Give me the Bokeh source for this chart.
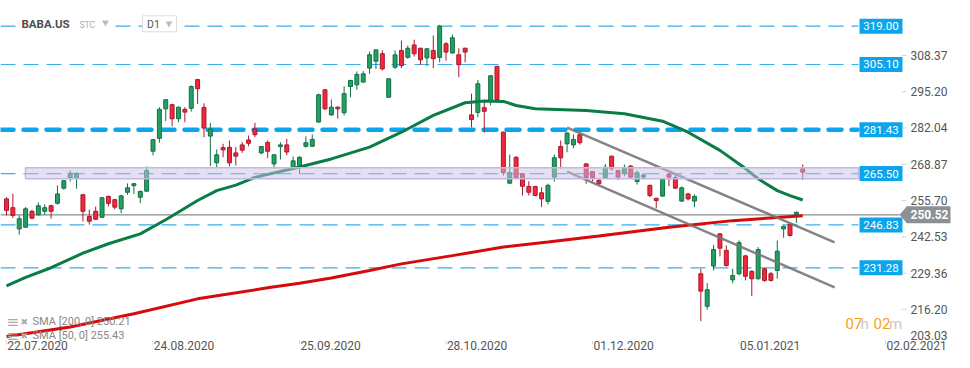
from bokeh.plotting import figure
from bokeh.models import ColumnDataSource, FixedTicker, PrintfTickFormatter, Range1d
from bokeh.core.properties import value
from bokeh.embed import file_html
from bokeh.resources import INLINE

# ---------------- data (BABA.US, D1) ----------------
opens = [256.3, 253.1, 245.4, 246.0, 251.8, 250.5, 251.8, 253.8, 254.7, 260.2,
         263.8, 263.8, 257.8, 249.9, 251.8, 249.6, 257.2, 256.0, 252.7, 258.7,
         261.1, 256.9, 259.1, 273.6, 278.3, 289.0, 290.5, 285.4, 288.8, 289.2,
         299.6, 289.5, 279.1, 269.4, 274.9, 275.0, 273.0, 275.9, 277.7, 281.7,
         273.0, 276.8, 269.0, 275.3, 275.9, 267.8, 267.8, 275.4, 275.4, 284.2,
         295.9, 286.8, 289.6, 287.6, 297.1, 297.7, 298.7, 303.8, 306.3, 309.0,
         293.2, 304.1, 310.2, 307.7, 312.2, 311.0, 307.5, 310.2, 307.7, 312.6,
         309.3, 308.6, 311.0, 286.8, 287.7, 289.4, 292.0, 304.4, 280.5, 262.0,
         271.4, 265.4, 260.8, 260.8, 258.5, 255.4, 264.2, 275.3, 276.3, 275.9,
         279.6, 269.0, 266.2, 263.0, 264.0, 271.8, 266.6, 265.6, 268.2, 262.6,
         264.2, 261.2, 256.5, 257.3, 265.2, 264.0, 255.5, 258.1, 255.5, 229.1,
         217.3, 231.9, 243.6, 237.6, 226.9, 229.1, 235.6, 230.0, 227.3, 230.9,
         229.1, 230.3, 245.4, 247.0, 250.6, 267.2]
highs = [256.9, 258.1, 250.3, 253.3, 252.3, 255.0, 254.3, 254.2, 261.2, 263.0,
         266.6, 265.8, 258.1, 252.4, 253.5, 257.0, 257.5, 256.3, 257.8, 261.9,
         262.0, 259.3, 268.1, 278.0, 289.6, 292.5, 290.8, 289.8, 289.6, 297.5,
         299.9, 291.0, 283.9, 274.2, 276.3, 277.5, 275.1, 276.9, 279.3, 283.9,
         275.5, 277.5, 272.5, 276.9, 278.1, 271.7, 271.8, 279.0, 279.7, 294.5,
         296.2, 292.4, 289.9, 297.1, 299.5, 302.6, 302.7, 309.8, 310.6, 310.2,
         300.1, 310.2, 313.8, 312.0, 314.1, 311.2, 311.0, 315.6, 319.5, 313.2,
         316.0, 311.0, 311.2, 294.5, 299.5, 292.0, 301.2, 304.6, 280.8, 272.4,
         271.8, 265.6, 262.7, 261.0, 260.5, 261.8, 272.4, 277.5, 280.5, 279.7,
         279.8, 269.3, 266.4, 263.6, 269.0, 272.0, 266.8, 268.8, 268.6, 266.6,
         265.5, 261.5, 256.7, 263.5, 265.5, 265.2, 260.8, 258.5, 257.9, 230.9,
         225.7, 239.6, 243.8, 239.4, 230.9, 241.2, 236.0, 230.3, 238.8, 231.2,
         229.8, 241.2, 246.6, 247.5, 251.7, 268.8]
lows = [250.3, 249.3, 243.3, 245.8, 248.9, 250.3, 250.5, 249.1, 254.3, 259.6,
        262.6, 260.0, 248.1, 246.9, 248.6, 249.4, 253.6, 252.4, 251.1, 257.8,
        258.1, 254.7, 258.9, 272.1, 276.7, 284.5, 282.7, 284.1, 284.1, 288.0,
        290.8, 278.7, 268.2, 267.8, 271.4, 268.1, 268.4, 273.0, 275.4, 278.7,
        272.5, 271.1, 267.2, 270.6, 272.1, 267.5, 265.4, 274.9, 275.2, 283.9,
        288.6, 286.5, 285.4, 286.6, 293.2, 295.9, 298.5, 301.7, 303.5, 302.9,
        293.0, 303.5, 303.8, 307.2, 308.0, 305.0, 304.5, 303.8, 305.9, 306.5,
        309.0, 300.5, 305.9, 282.3, 286.0, 280.4, 290.2, 292.0, 264.8, 261.8,
        263.6, 257.5, 257.5, 257.3, 253.3, 254.3, 262.6, 267.2, 273.2, 274.7,
        276.0, 261.8, 262.6, 261.3, 263.6, 266.5, 263.2, 264.5, 263.8, 261.5,
        263.4, 256.9, 252.9, 257.0, 260.9, 259.9, 255.2, 255.8, 253.3, 211.9,
        216.1, 230.3, 235.4, 231.7, 225.7, 228.5, 226.7, 221.0, 227.0, 226.2,
        226.3, 227.3, 242.2, 242.6, 247.5, 263.2]
closes = [252.1, 250.3, 249.1, 252.7, 249.3, 253.8, 253.1, 251.8, 258.1, 262.9,
          265.6, 265.6, 251.8, 248.2, 248.9, 256.7, 254.7, 253.3, 257.4, 260.3,
          261.8, 259.0, 266.6, 277.8, 288.8, 292.3, 285.4, 289.6, 287.8, 297.1,
          296.3, 282.0, 281.7, 272.3, 274.1, 269.4, 271.8, 274.0, 276.5, 279.6,
          275.3, 273.6, 272.3, 275.9, 273.3, 270.1, 271.4, 276.7, 277.9, 294.1,
          289.0, 289.6, 289.0, 294.5, 299.3, 301.5, 301.7, 308.6, 310.4, 303.5,
          299.9, 308.6, 304.7, 311.0, 309.0, 306.8, 310.8, 307.2, 319.0, 309.6,
          314.8, 305.0, 309.6, 285.1, 298.1, 288.1, 301.0, 292.4, 265.8, 265.8,
          263.9, 260.9, 258.7, 257.5, 256.3, 261.2, 271.2, 271.2, 280.2, 277.9,
          276.7, 264.0, 264.0, 261.8, 267.8, 267.2, 264.2, 267.4, 264.2, 265.8,
          265.0, 257.5, 255.7, 263.3, 264.2, 260.2, 260.3, 256.3, 257.2, 222.8,
          223.3, 237.9, 238.4, 232.1, 228.5, 240.4, 228.2, 227.3, 237.9, 226.7,
          226.7, 237.3, 246.3, 243.0, 251.4, 266.0]

# moving averages (bar index -> value)
sma50_idx = [0, 3, 7, 12, 16, 21, 25, 30, 33, 36, 39, 46, 51, 57, 62, 67, 72, 75, 78,
             80, 83, 91, 97, 103, 107, 112, 116, 118, 121, 123, 125]
sma50_val = [224.7, 227.8, 231.3, 236.6, 240.0, 243.6, 248.7, 255.7, 259.3, 261.3, 264.1,
             267.9, 270.8, 275.1, 280.5, 286.6, 291.2, 291.8, 291.7, 290.2, 289.0, 288.4,
             287.2, 284.5, 280.5, 273.9, 267.3, 263.6, 259.3, 257.5, 255.9]
sma200_idx = [0, 10, 20, 30, 41, 46, 51, 57, 62, 70, 78, 85, 93, 104, 114, 125]
sma200_val = [206.3, 209.8, 214.6, 220.0, 224.0, 225.7, 227.6, 230.3, 232.7, 235.7, 238.8,
              240.6, 242.8, 246.0, 248.4, 250.2]

# horizontal levels and zone
levels = [319.00, 305.10, 281.43, 265.50, 246.83, 231.28]
thick_level = 281.43
zone_low, zone_high = 263.6, 267.6
last_price = 250.52

# channel lines (bar index, price)
trend_x = [88, 130]
trend_upper = [282.2, 240.5]
trend_lower = [266.2, 224.2]

# axes
x_tick_idx = [0, 23, 46, 69, 92, 115, 138]
x_tick_lbl = ["22.07.2020", "24.08.2020", "25.09.2020", "28.10.2020",
              "01.12.2020", "05.01.2021", "02.02.2021"]
y_ticks = [216.20, 229.36, 242.53, 255.70, 268.87, 282.04, 295.20, 308.37]
y_bottom_label = "203.03"   # the platform lifts its lowest price label inside the chart

legend_lines = ["SMA [200,  0] 250.21", "SMA [50,  0] 255.43"]

# ---------------- layout helpers ----------------
BAR_PX, X0_PX = 6.37, 6.0
W, H = 954, 352


def ix(px):
    """horizontal pixel of the layout -> bar index"""
    return (px - X0_PX) / BAR_PX


def py(ypx):
    """vertical pixel of the layout -> price"""
    return 328.33 - 0.3631 * ypx


FONT = value("Roboto")
GREEN_F, GREEN_L = "#22a064", "#137043"
RED_F, RED_L = "#f0283c", "#a8182b"
BLUE = "#0ba5ec"
TICK = "#d6d6d6"
TAG_GREY = "#8a9094"

p = figure(width=W, height=H, output_backend="svg", toolbar_location=None,
           x_range=Range1d(ix(0), ix(W)), y_range=Range1d(py(H), py(0)),
           min_border_left=0, min_border_top=0, min_border_right=0, min_border_bottom=0,
           y_axis_location="right")
p.outline_line_color = None
p.xgrid.visible = False
p.ygrid.visible = False
p.background_fill_color = "white"

# x axis: labels start at their date, drawn just above the bottom edge
label_shift = 31 / BAR_PX
xa = p.xaxis[0]
xa.ticker = FixedTicker(ticks=[i + label_shift for i in x_tick_idx])
xa.major_label_overrides = {i + label_shift: l for i, l in zip(x_tick_idx, x_tick_lbl)}
xa.axis_line_color = None
xa.major_tick_line_color = None
xa.major_tick_out = 0
xa.major_tick_in = 0
xa.minor_tick_line_color = None
xa.major_label_text_font = "Roboto"
xa.major_label_text_font_size = "12px"
xa.major_label_text_color = "#555555"
xa.major_label_standoff = -12

# y axis on the right, labels inside the price column
bottom_tick = round(py(335), 2)
ya = p.yaxis[0]
ya.ticker = FixedTicker(ticks=[bottom_tick] + y_ticks)
ya.formatter = PrintfTickFormatter(format="%.2f")
ya.major_label_overrides = {bottom_tick: y_bottom_label}
ya.axis_line_color = None
ya.major_tick_line_color = None
ya.major_tick_out = 0
ya.major_tick_in = 0
ya.minor_tick_line_color = None
ya.major_label_text_font = "Roboto"
ya.major_label_text_font_size = "12px"
ya.major_label_text_color = "#555555"
ya.major_label_standoff = -(W - 910)

# small tick marks
p.segment(x0=[ix(901)] * len(y_ticks), x1=[ix(906)] * len(y_ticks), y0=y_ticks, y1=y_ticks,
          line_color=TICK, line_width=1)
p.segment(x0=x_tick_idx, x1=x_tick_idx, y0=[py(340)] * len(x_tick_idx),
          y1=[py(344)] * len(x_tick_idx), line_color=TICK, line_width=1)

# horizontal levels
for lv in levels:
    if lv == thick_level:
        p.line([ix(0), ix(857)], [lv, lv], line_color=BLUE, line_width=4.5,
               line_dash="13 10", line_cap="round")
    else:
        p.line([ix(0), ix(858)], [lv, lv], line_color="#3aaeea", line_width=1.2,
               line_dash="15 8")

# last price line
p.line([ix(0), ix(899)], [last_price, last_price], line_color="#8c8c8c", line_width=1.2)

# candles
n = len(opens)
idx = list(range(n))
up = [c >= o for o, c in zip(opens, closes)]
src = ColumnDataSource(dict(
    x=idx, h=highs, l=lows,
    top=[max(o, c) for o, c in zip(opens, closes)],
    bottom=[min(o, c) for o, c in zip(opens, closes)],
    fill=[GREEN_F if u else RED_F for u in up],
    edge=[GREEN_L if u else RED_L for u in up],
))
p.segment(x0="x", y0="h", x1="x", y1="l", line_color="edge", line_width=1, source=src)
p.vbar(x="x", width=0.62, top="top", bottom="bottom", fill_color="fill",
       line_color="edge", line_width=1, source=src)

# moving averages
p.line(sma200_idx, sma200_val, line_color="#d70a0a", line_width=3)
p.line(sma50_idx, sma50_val, line_color="#0a7d46", line_width=3)

# channel
p.line(trend_x, trend_upper, line_color="#777777", line_width=2.5, line_alpha=0.9)
p.line(trend_x, trend_lower, line_color="#777777", line_width=2.5, line_alpha=0.9)

# zone
p.quad(left=[ix(25)], right=[ix(858)], bottom=[zone_low], top=[zone_high],
       fill_color="#c9c1e5", fill_alpha=0.5, line_color="#c2b9e2", line_width=1.5)

# level tags
p.rect(x=[ix(880.5)] * len(levels), y=levels, width=43, height=15,
       width_units="screen", height_units="screen", fill_color=BLUE, line_color=None)
p.text(x=[ix(880.5)] * len(levels), y=levels, text=[f"{v:.2f}" for v in levels],
       text_color="white", text_font=FONT, text_font_size="11.5px",
       text_align="center", text_baseline="middle")

# last price tag
p.patch(x=[ix(899), ix(906.5), ix(906.5)],
        y=[last_price, last_price + 8.5 * 0.3631, last_price - 8.5 * 0.3631],
        fill_color=TAG_GREY, line_color=None)
p.rect(x=[ix(928)], y=[last_price], width=44, height=17, width_units="screen",
       height_units="screen", fill_color=TAG_GREY, line_color=None)
p.text(x=[ix(929)], y=[last_price], text=[f"{last_price:.2f}"], text_font=FONT,
       text_font_size="12px", text_font_style="bold", text_color="white",
       text_align="center", text_baseline="middle")

# header: symbol and interval
p.quad(left=[ix(18)], right=[ix(113)], bottom=[py(32)], top=[py(16)],
       fill_color="white", line_color=None)
p.text(x=[ix(21)], y=[py(23)], text=["BABA.US"], text_font=FONT, text_font_style="bold",
       text_font_size="11.5px", text_color="#4d4d4d", text_baseline="middle")
p.text(x=[ix(79)], y=[py(24)], text=["STC"], text_font=FONT, text_font_size="8.5px",
       text_color="#aaaaaa", text_baseline="middle")
p.rect(x=[ix(159)], y=[py(23.3)], width=34, height=16, width_units="screen",
       height_units="screen", fill_color="white", line_color="#dddddd", line_width=1)
p.text(x=[ix(146.5)], y=[py(23.5)], text=["D1"], text_font=FONT, text_font_size="10.5px",
       text_color="#555555", text_baseline="middle")
p.scatter(x=[ix(105), ix(168.5)], y=[py(22), py(23)], marker="inverted_triangle", size=7,
          fill_color="#bbbbbb", line_color=None)

# indicator legend
for k, txt in enumerate(legend_lines):
    yy = py(321 + 14 * k)
    p.text(x=[ix(6)], y=[yy], text=["\u2261"], text_font=value("DejaVu Sans"),
           text_font_size="15px", text_color="#aaaaaa", text_baseline="middle")
    p.text(x=[ix(20)], y=[yy], text=["\u2716"], text_font=value("DejaVu Sans"),
           text_font_size="9px", text_color="#aaaaaa", text_baseline="middle")
    p.text(x=[ix(32)], y=[yy], text=[txt], text_font=FONT, text_font_size="11px",
           text_color="#888888", text_baseline="middle")

# session timer
timer = [("07", 845, "#f7a11a"), ("h", 860, "#c8c8c8"), ("02", 873, "#f7a11a"),
         ("m", 888.5, "#c8c8c8")]
for t, xpx, col in timer:
    p.text(x=[ix(xpx)], y=[py(323)], text=[t], text_font=FONT, text_font_size="15px",
           text_color=col, text_baseline="middle")

open("out.html", "w").write(file_html(p, INLINE))
